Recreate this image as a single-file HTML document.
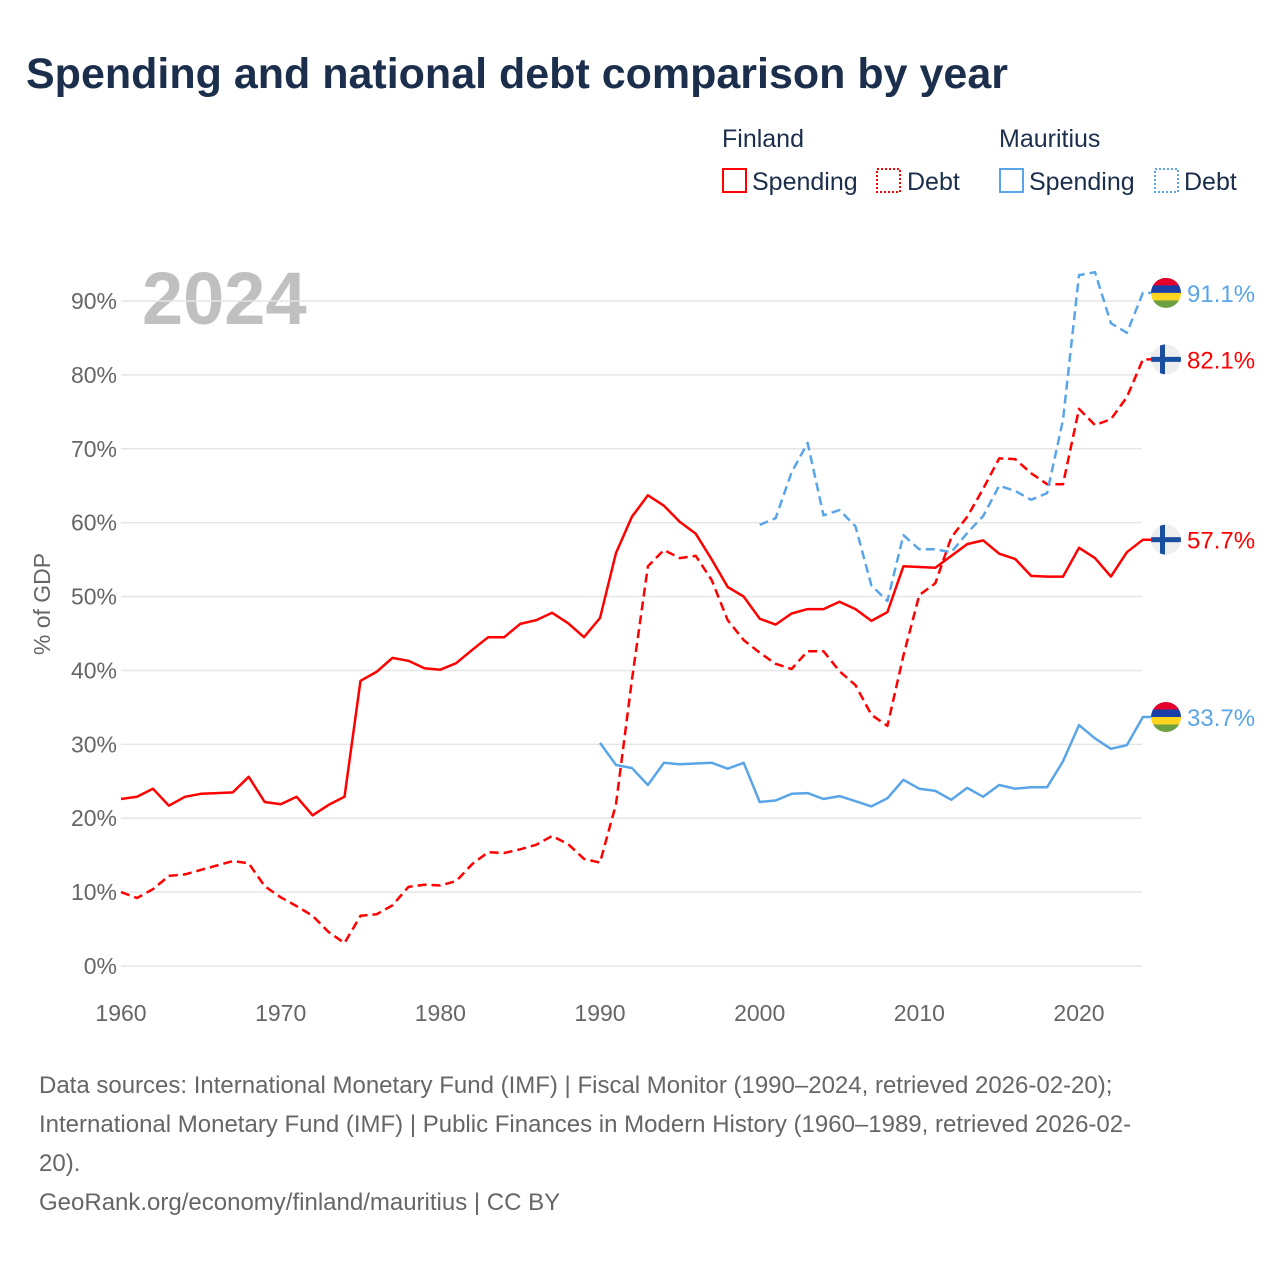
<!DOCTYPE html>
<html><head><meta charset="utf-8"><style>
html,body{margin:0;padding:0;background:#fff;}
body{width:1280px;height:1280px;position:relative;overflow:hidden;font-family:"Liberation Sans",sans-serif;}
.t{position:absolute;white-space:nowrap;}
</style></head><body>
<div class="t" style="left:26px;top:50px;font-size:43px;font-weight:bold;color:#1b2e4b;letter-spacing:0px;">Spending and national debt comparison by year</div>
<svg id="chart" width="1280" height="1280" style="position:absolute;left:0;top:0;" xmlns="http://www.w3.org/2000/svg">
<g font-size="25" fill="#1b2e4b">
<text x="722" y="147">Finland</text>
<text x="999" y="147">Mauritius</text>
<g><rect x="723" y="169" width="23" height="23" fill="none" stroke="#ff0000" stroke-width="2"/><text x="752" y="190">Spending</text></g>
<g><rect x="877" y="169" width="23" height="23" fill="none" stroke="#ff0000" stroke-width="2" stroke-dasharray="2,2"/><text x="907" y="190">Debt</text></g>
<g><rect x="1000" y="169" width="23" height="23" fill="none" stroke="#5aa5e8" stroke-width="2"/><text x="1029" y="190">Spending</text></g>
<g><rect x="1155" y="169" width="23" height="23" fill="none" stroke="#5aa5e8" stroke-width="2" stroke-dasharray="2,2"/><text x="1184" y="190">Debt</text></g>
</g>
<text x="142" y="324" font-size="74" font-weight="bold" fill="#c0c0c0">2024</text>
<g id="grid"></g><g id="series"></g><g id="ends"></g>
<text transform="translate(50,604) rotate(-90)" text-anchor="middle" font-size="23" fill="#666">% of GDP</text>
</svg>
<div class="t" style="left:39px;top:1066px;font-size:24px;line-height:39px;color:#666;">Data sources: International Monetary Fund (IMF) | Fiscal Monitor (1990–2024, retrieved 2026-02-20);<br>International Monetary Fund (IMF) | Public Finances in Modern History (1960–1989, retrieved 2026-02-<br>20).<br>GeoRank.org/economy/finland/mauritius | CC BY</div>
<script>
const yTicks=[0,10,20,30,40,50,60,70,80,90];
const xTicks=[1960,1970,1980,1990,2000,2010,2020];
const finSpendStart=1960;
const finSpend=[22.6,22.9,24.0,21.7,22.9,23.3,23.4,23.5,25.6,22.2,21.9,22.9,20.4,21.8,22.9,38.6,39.8,41.7,41.3,40.3,40.1,41.0,42.8,44.5,44.5,46.3,46.8,47.8,46.4,44.5,47.1,55.9,60.8,63.7,62.3,60.1,58.5,55.0,51.3,50.0,47.0,46.2,47.7,48.3,48.3,49.3,48.3,46.7,47.9,54.1,54.0,53.9,55.5,57.1,57.6,55.8,55.1,52.8,52.7,52.7,56.6,55.2,52.7,56.0,57.7];
const finDebtStart=1960;
const finDebt=[10.0,9.2,10.4,12.2,12.4,13.0,13.6,14.2,13.9,10.8,9.3,8.1,6.8,4.6,3.1,6.8,7.0,8.2,10.7,11.0,10.9,11.5,13.8,15.4,15.3,15.8,16.4,17.6,16.5,14.5,14.0,21.9,38.7,54.1,56.3,55.2,55.5,52.2,46.8,44.1,42.4,40.9,40.2,42.6,42.6,39.9,38.0,34.0,32.5,42.0,50.2,51.8,58.0,60.8,64.6,68.7,68.6,66.7,65.2,65.2,75.4,73.2,74.0,77.0,82.1];
const mauSpendStart=1990;
const mauSpend=[30.2,27.2,26.8,24.5,27.5,27.3,27.4,27.5,26.7,27.5,22.2,22.4,23.3,23.4,22.6,23.0,22.3,21.6,22.7,25.2,24.0,23.7,22.5,24.1,22.9,24.5,24.0,24.2,24.2,27.7,32.6,30.8,29.4,29.9,33.7];
const mauDebtStart=2000;
const mauDebt=[59.7,60.6,66.8,70.8,61.0,61.7,59.5,51.5,49.4,58.3,56.4,56.4,56.0,58.6,60.9,65.0,64.3,63.1,64.0,73.9,93.5,93.9,87.0,85.7,91.1];

const X=yr=>121+(yr-1960)*(1079-121)/60;
const Y=v=>966-v*(966-301)/90;
const NS='http://www.w3.org/2000/svg';
function mk(tag,attrs,parent){const e=document.createElementNS(NS,tag);for(const k in attrs)e.setAttribute(k,attrs[k]);parent.appendChild(e);return e;}
const grid=document.getElementById('grid');
yTicks.forEach(t=>{
  const l=mk('line',{x1:121,x2:1142,y1:Y(t),y2:Y(t),stroke:'#e6e6e6','stroke-width':1.5},grid);
  
  
  const tx=mk('text',{x:117,y:Y(t)+8,'text-anchor':'end','font-size':23,fill:'#666'},grid);
  tx.textContent=t+'%';
  
  
});
xTicks.forEach(t=>{
  const tx=mk('text',{x:X(t),y:1021,'text-anchor':'middle','font-size':23,fill:'#666'},grid);
  tx.textContent=t;
  
  
});
const ser=document.getElementById('series');
function line(arr,start,color,dash,name){
  const pts=arr.map((v,i)=>X(start+i).toFixed(1)+','+Y(v).toFixed(1));
  const last=arr[arr.length-1];
  pts.push('1152,'+Y(last).toFixed(1));
  const p=mk('polyline',{points:pts.join(' '),fill:'none',stroke:color,'stroke-width':2.5,'stroke-linejoin':'round'},ser);
  if(dash)p.setAttribute('stroke-dasharray','9,5');
  
  
}
line(finSpend,finSpendStart,'#ff0000',false,'finland-spending-line');
line(finDebt,finDebtStart,'#ff0000',true,'finland-debt-line');
line(mauSpend,mauSpendStart,'#5aa5e8',false,'mauritius-spending-line');
line(mauDebt,mauDebtStart,'#5aa5e8',true,'mauritius-debt-line');
const ends=document.getElementById('ends');
function flag(val,country,color,name){
  const cy=Y(val),cx=1166,r=15;
  const g=mk('g',{},ends);
  
  
  const cid='c'+name;
  const cp=mk('clipPath',{id:cid},g);mk('circle',{cx:cx,cy:cy,r:r},cp);
  const f=mk('g',{'clip-path':'url(#'+cid+')'},g);
  if(country==='mu'){
    ['#e4002b','#1a3fa6','#ffd520','#6ca043'].forEach((c,i)=>mk('rect',{x:cx-r,y:cy-r+i*r/2,width:2*r,height:r/2+0.5,fill:c},f));
  }else{
    mk('rect',{x:cx-r,y:cy-r,width:2*r,height:2*r,fill:'#eeeeee'},f);
    mk('rect',{x:cx-r,y:cy-2.5,width:2*r,height:5,fill:'#1a4fa0'},f);
    mk('rect',{x:cx-6,y:cy-r,width:5,height:2*r,fill:'#1a4fa0'},f);
  }
  const t=mk('text',{x:1187,y:cy+9,'font-size':24,fill:color},g);
  t.textContent=val.toFixed(1)+'%';
}
flag(mauDebt[mauDebt.length-1],'mu','#5aa5e8','mauritius-debt-end-label');
flag(finDebt[finDebt.length-1],'fi','#ff0000','finland-debt-end-label');
flag(finSpend[finSpend.length-1],'fi','#ff0000','finland-spending-end-label');
flag(mauSpend[mauSpend.length-1],'mu','#5aa5e8','mauritius-spending-end-label');
</script>
</body></html>
